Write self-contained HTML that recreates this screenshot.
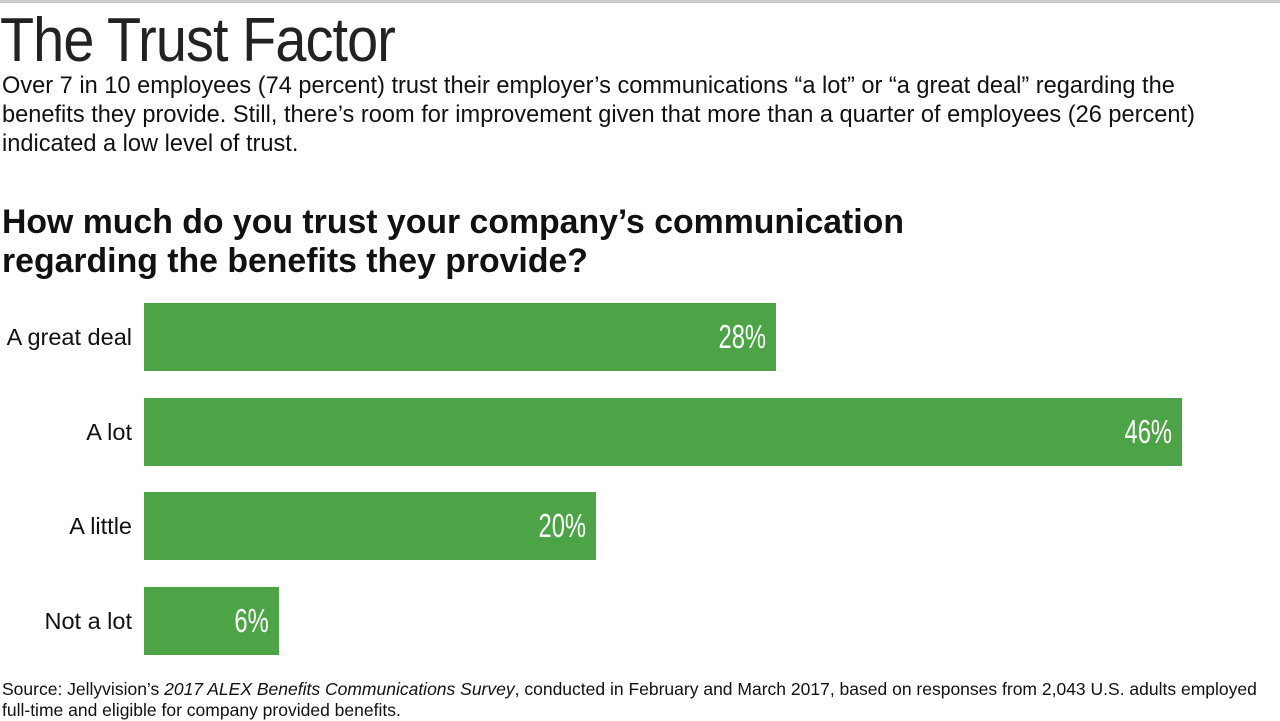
<!DOCTYPE html>
<html><head><meta charset="utf-8"><style>
body{margin:0;width:1280px;height:720px;background:#fff;position:relative;overflow:hidden;font-family:"Liberation Sans",sans-serif;color:#111}
.top{position:absolute;left:0;top:0;width:1280px;height:3px;background:#ccc}
h1{position:absolute;left:0;top:6px;margin:0;font-weight:normal;font-size:62px;line-height:70px;letter-spacing:-1px;color:#222;transform:scaleX(0.9);transform-origin:left}
.p{position:absolute;left:2px;top:72px;width:1270px;font-size:23.6px;line-height:29px;white-space:nowrap}
h2{position:absolute;left:2px;top:203px;margin:0;font-size:33.8px;line-height:39px;font-weight:bold}
.lab{position:absolute;right:1148px;font-size:23.5px;line-height:68px;height:68px;white-space:nowrap}
.bar{position:absolute;left:144px;height:68px;background:#4ca447}
.v{position:absolute;right:10px;top:0;line-height:68px;color:#fff;font-size:33px;transform:scaleX(0.72);transform-origin:right}
.src{position:absolute;left:2px;top:679px;font-size:17.5px;line-height:21px;width:1262px}
</style></head><body>
<div class="top"></div>
<h1>The Trust Factor</h1>
<div class="p">Over 7 in 10 employees (74 percent) trust their employer’s communications “a lot” or “a great deal” regarding the<br>benefits they provide. Still, there’s room for improvement given that more than a quarter of employees (26 percent)<br>indicated a low level of trust.</div>
<h2>How much do you trust your company’s communication<br>regarding the benefits they provide?</h2>
<div class="lab" style="top:303px">A great deal</div>
<div class="bar" style="top:303px;width:632px"><span class="v">28%</span></div>
<div class="lab" style="top:398px">A lot</div>
<div class="bar" style="top:398px;width:1038px"><span class="v">46%</span></div>
<div class="lab" style="top:492px">A little</div>
<div class="bar" style="top:492px;width:452px"><span class="v">20%</span></div>
<div class="lab" style="top:587px">Not a lot</div>
<div class="bar" style="top:587px;width:135px"><span class="v">6%</span></div>
<div class="src">Source: Jellyvision’s <i>2017 ALEX Benefits Communications Survey</i>, conducted in February and March 2017, based on responses from 2,043 U.S. adults employed full-time and eligible for company provided benefits.</div>
</body></html>
